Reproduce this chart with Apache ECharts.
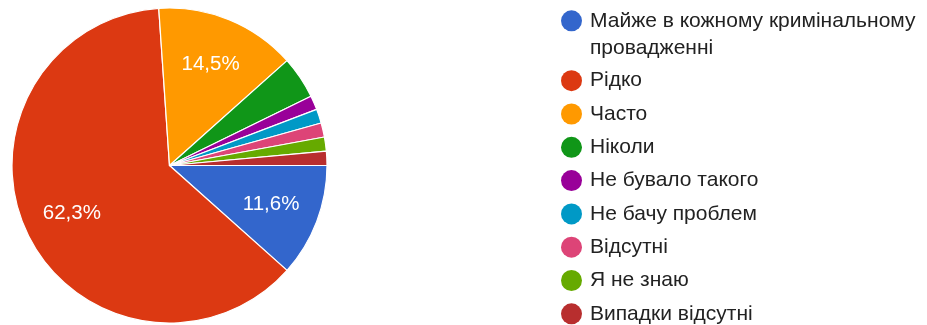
<!DOCTYPE html>
<html>
<head>
<meta charset="utf-8">
<script src="https://cdn.jsdelivr.net/npm/echarts@6/dist/echarts.min.js"></script>
<style>
  html, body { margin: 0; padding: 0; background: #fff; }
  #chart { width: 927px; height: 325px; }
</style>
</head>
<body>
<div id="chart"></div>
<script>
// Answer categories and response counts
const categories = [
  'Майже в кожному кримінальному провадженні',
  'Рідко',
  'Часто',
  'Ніколи',
  'Не бувало такого',
  'Не бачу проблем',
  'Відсутні',
  'Я не знаю',
  'Випадки відсутні'
];
const counts = [8, 43, 10, 3, 1, 1, 1, 1, 1];
const colors = ['#3366cc', '#dc3912', '#ff9900', '#109618', '#990099', '#0099c6', '#dd4477', '#66aa00', '#b82e2e'];

const total = counts.reduce((a, b) => a + b, 0);
const pieData = categories.map((name, i) => ({ name, value: counts[i], itemStyle: { color: colors[i] } }));

const FONT = '"Liberation Sans", Arial, sans-serif';
const R = 157.5;
const CENTER = [169.5, 165.5];

function pctLabel(p) {
  const pct = p.value / total * 100;
  if (pct < 5) return '';
  return pct.toFixed(1).replace('.', ',') + '%';
}

function legendText(lineHeight) {
  return {
    fontFamily: FONT, fontSize: 21, color: '#222222', lineHeight: lineHeight,
    rich: { t: { fontFamily: FONT, fontSize: 21, color: '#222222', lineHeight: lineHeight, padding: [0, 0, 0, 3] } }
  };
}

const legendCommon = {
  orient: 'vertical',
  left: 561,
  padding: 0,
  icon: 'circle',
  itemWidth: 21,
  itemHeight: 21,
  itemGap: 12.3,
  itemStyle: { borderWidth: 0 }
};

const chart = echarts.init(document.getElementById('chart'), null, { renderer: 'canvas' });
chart.setOption({
  animation: false,
  backgroundColor: '#ffffff',
  legend: [
    Object.assign({}, legendCommon, {
      // long answer wraps onto a second line; the icon sits beside the first line
      data: [categories[0]],
      top: -19.7,
      formatter: () => '\n{t|Майже в кожному кримінальному}\n{t|провадженні}',
      textStyle: legendText(27)
    }),
    Object.assign({}, legendCommon, {
      data: categories.slice(1),
      top: 70.2,
      formatter: name => '{t|' + name + '}',
      textStyle: legendText(21)
    })
  ],
  series: [
    {
      type: 'pie',
      center: CENTER,
      radius: [0, R],
      startAngle: 0,
      clockwise: true,
      avoidLabelOverlap: false,
      itemStyle: { borderColor: '#ffffff', borderWidth: 1.2 },
      label: { show: false },
      labelLine: { show: false },
      emphasis: { disabled: true },
      data: pieData
    },
    {
      // label layer: places percentage text about two thirds out from the centre
      type: 'pie',
      center: CENTER,
      radius: [54, R],
      startAngle: 0,
      clockwise: true,
      silent: true,
      legendHoverLink: false,
      avoidLabelOverlap: false,
      itemStyle: { color: 'rgba(0,0,0,0)', borderWidth: 0 },
      label: {
        show: true,
        position: 'inside',
        formatter: pctLabel,
        color: '#ffffff',
        fontFamily: FONT,
        fontSize: 20.5
      },
      labelLine: { show: false },
      emphasis: { disabled: true },
      data: categories.map((name, i) => ({ name, value: counts[i], itemStyle: { color: 'rgba(0,0,0,0)' } }))
    }
  ]
});
</script>
</body>
</html>
